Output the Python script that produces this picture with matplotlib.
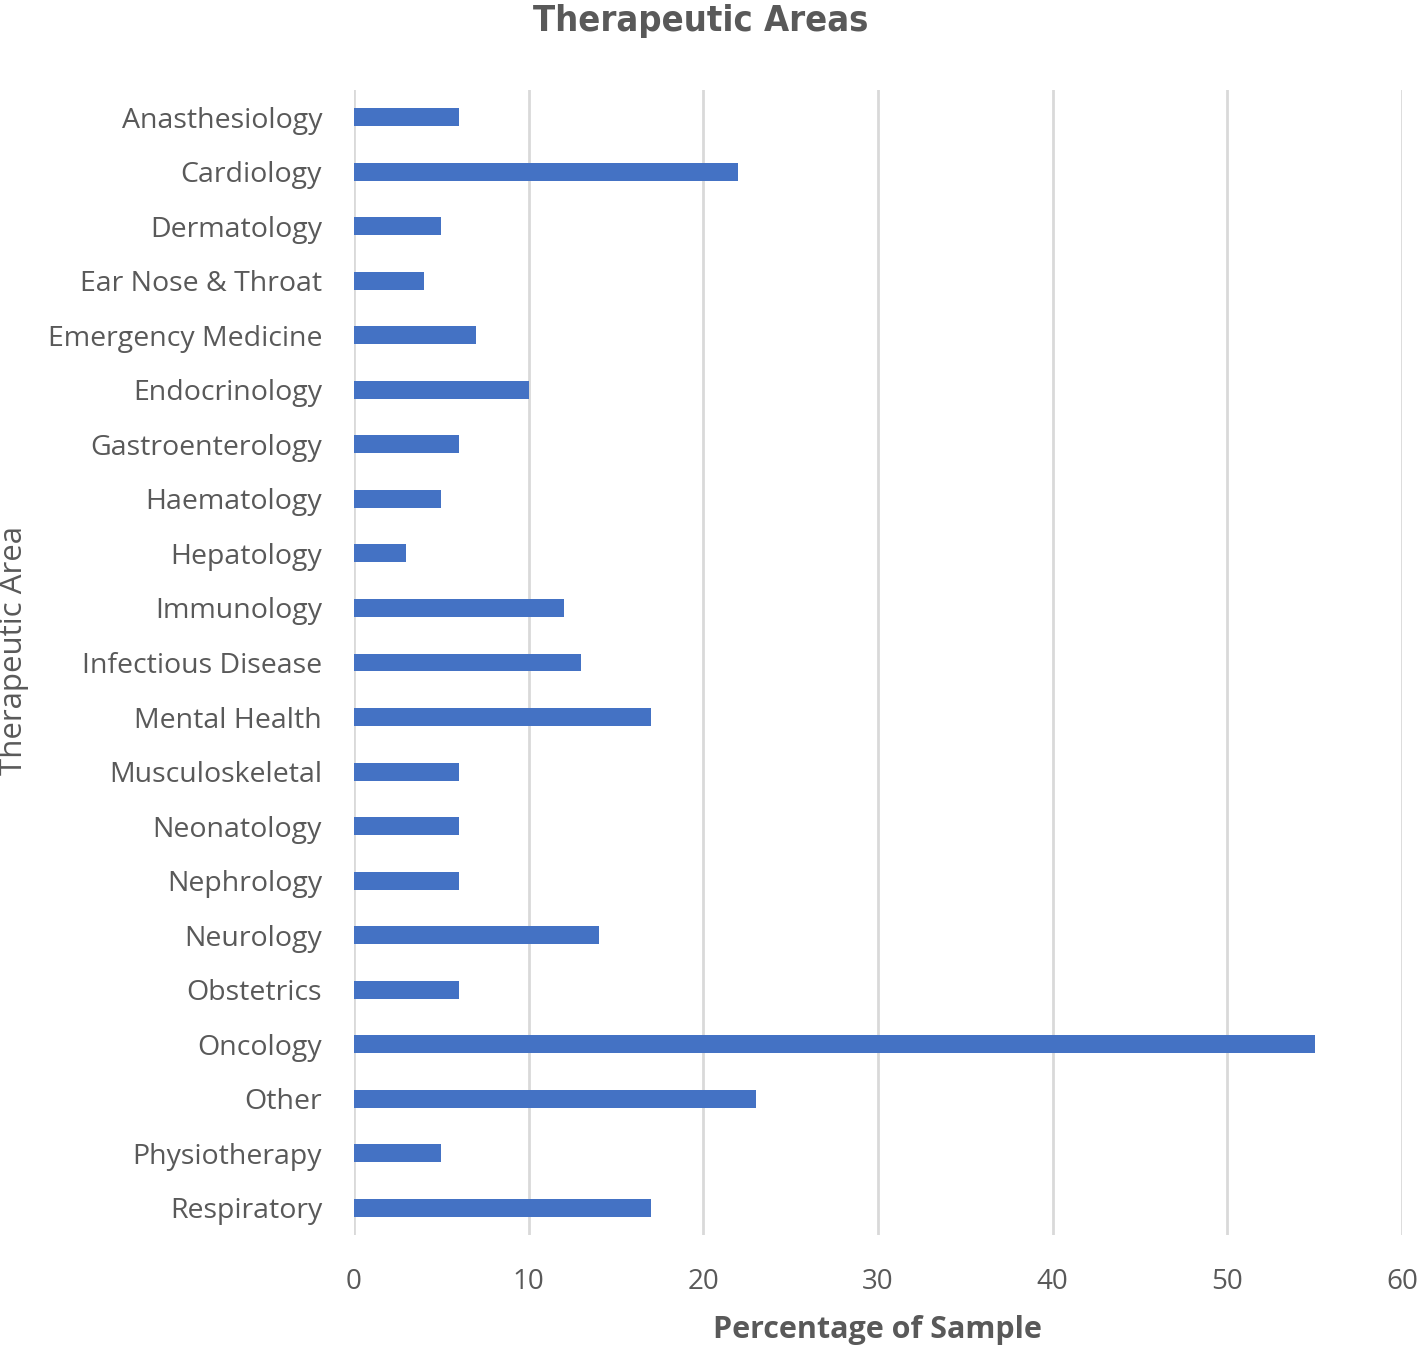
import matplotlib
matplotlib.use('Agg')
import matplotlib.pyplot as plt
from matplotlib import font_manager

# Datos
areas = ['Anasthesiology', 'Cardiology', 'Dermatology', 'Ear Nose & Throat',
         'Emergency Medicine', 'Endocrinology', 'Gastroenterology', 'Haematology',
         'Hepatology', 'Immunology', 'Infectious Disease', 'Mental Health',
         'Musculoskeletal', 'Neonatology', 'Nephrology', 'Neurology',
         'Obstetrics', 'Oncology', 'Other', 'Physiotherapy', 'Respiratory']
porcentajes = [6, 22, 5, 4, 7, 10, 6, 5, 3, 12, 13, 17, 6, 6, 6, 14, 6, 55, 23, 5, 17]
xticks = [0, 10, 20, 30, 40, 50, 60]

gris = '#595959'
azul = '#4472C4'

# buscar una fuente estrecha en negrita para el titulo
estrecha = None
for f in font_manager.fontManager.ttflist:
    if ('Narrow' in f.name or 'Condensed' in f.name or f.stretch in ('condensed', 'semi-condensed')) and f.weight in ('bold', 700):
        estrecha = f.fname
        break

fig = plt.figure(figsize=(14.24, 13.48), dpi=100)
ax = fig.add_axes([354/1424, 1 - 1235/1348, (1402 - 354)/1424, (1235 - 90)/1348])

pos = list(range(len(areas)))
ax.barh(pos, porcentajes, height=0.33, color=azul, zorder=3)
ax.set_ylim(len(areas) - 0.5, -0.5)
ax.set_xlim(0, 60)
ax.set_xticks(xticks)
ax.set_yticks(pos)
ax.set_yticklabels(areas, family='Open Sans', fontsize=20.5, color=gris)
ax.set_xticklabels([str(t) for t in xticks], family='Open Sans', fontsize=20, color=gris)

ax.grid(axis='x', color='#d9d9d9', linewidth=2, zorder=0)
for s in ax.spines.values():
    s.set_visible(False)
ax.tick_params(axis='y', length=0, pad=23)
ax.tick_params(axis='x', length=0, pad=24)

if estrecha:
    fp = font_manager.FontProperties(fname=estrecha, size=26)
    fig.text(701/1424, 1 - 21/1348, 'Therapeutic Areas', fontproperties=fp,
             color=gris, ha='center', va='center')
else:
    fig.text(701/1424, 1 - 21/1348, 'Therapeutic Areas', family='Open Sans',
             fontweight='bold', fontsize=26, color=gris, ha='center', va='center')
fig.text(877/1424, 1 - 1330/1348, 'Percentage of Sample', family='Open Sans',
         fontweight='bold', fontsize=22, color=gris, ha='center', va='center')
fig.text(14/1424, 1 - 650/1348, 'Therapeutic Area', family='Open Sans',
         fontsize=22.5, color=gris, ha='center', va='center', rotation=90)

fig.savefig('out.png', dpi=100)
